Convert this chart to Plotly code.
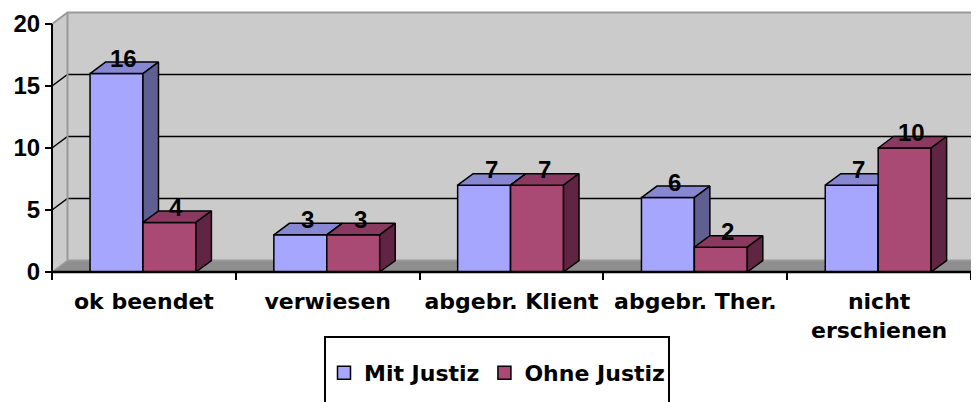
import plotly.graph_objects as go

# ---------------- data ----------------
categories = ["ok beendet", "verwiesen", "abgebr. Klient", "abgebr. Ther.", "nicht<br>erschienen"]
mit_justiz = [16, 3, 7, 6, 7]
ohne_justiz = [4, 3, 7, 2, 10]
series_names = ["Mit Justiz", "Ohne Justiz"]
y_tick_values = [0, 5, 10, 15, 20]

# ---------------- geometry / style ----------------
# the page body adds an 8px offset; figure pixel targets are shifted accordingly
W, H = 979, 402
ML, MR, MT, MB = 32, 0, 0, 130
plot_w = W - ML - MR
plot_h = H - MT - MB
PX_X = 183.8   # pixels per category
PX_Y = 12.4    # pixels per unit
x_lo = -12 / PX_X
x_hi = x_lo + plot_w / PX_X
y_lo = -8 / PX_Y
y_hi = y_lo + plot_h / PX_Y

DX = 15.5 / PX_X   # 3D depth offset (x, data units)
DY = 11.5 / PX_Y   # 3D depth offset (y, data units)
N = len(categories)
YMAX = y_tick_values[-1]
BAR_OFF = 0.207
BAR_W = 0.288

colors = {
    "Mit Justiz": {"front": "#A6A6FF", "top": "#8787D2", "side": "#5F5F92"},
    "Ohne Justiz": {"front": "#A94A74", "top": "#8A3A60", "side": "#602542"},
}
WALL = "#CBCBCB"
FLOOR = "#8E8E8E"
EDGE = "#9A9A9A"
DIGIT_FONT = dict(family="Liberation Sans, Arial, sans-serif", size=24, color="black", weight="bold")
TEXT_FONT = dict(family="DejaVu Sans, Verdana, sans-serif", size=22, color="black", weight="bold")

fig = go.Figure()


def faces(values, s_idx):
    fx, fy, tx, ty, sx, sy = [], [], [], [], [], []
    for i, v in enumerate(values):
        x0 = i + BAR_OFF + s_idx * BAR_W
        x1 = x0 + BAR_W
        fx += [x0, x1, x1, x0, x0, None]
        fy += [0, 0, v, v, 0, None]
        tx += [x0, x1, x1 + DX, x0 + DX, x0, None]
        ty += [v, v, v + DY, v + DY, v, None]
        sx += [x1, x1 + DX, x1 + DX, x1, x1, None]
        sy += [0, DY, v + DY, v, 0, None]
    return (fx, fy), (tx, ty), (sx, sy)


for s_idx, (name, vals) in enumerate(zip(series_names, [mit_justiz, ohne_justiz])):
    front, top, side = faces(vals, s_idx)
    for (xs, ys), part in zip([front, top, side], ["front", "top", "side"]):
        fig.add_trace(go.Scatter(
            x=xs, y=ys, mode="lines", fill="toself",
            fillcolor=colors[name][part],
            line=dict(color="black", width=1.5),
            hoverinfo="skip", showlegend=False,
        ))
    for i, v in enumerate(vals):
        x0 = i + BAR_OFF + s_idx * BAR_W
        fig.add_annotation(
            x=x0 + BAR_W / 2 + DX * 0.45, y=v + DY * 0.5,
            text=str(v), showarrow=False, font=DIGIT_FONT,
            xanchor="center", yanchor="bottom", yshift=-6,
        )

# legend-only entries
for name in series_names:
    fig.add_trace(go.Scatter(
        x=[None], y=[None], mode="markers", name=name,
        marker=dict(symbol="square", size=13, color=colors[name]["front"],
                    line=dict(color="black", width=1.5)),
        showlegend=True,
    ))

shapes = []
# back wall, left wall, floor
shapes.append(dict(type="rect", xref="x", yref="y", x0=DX, x1=N + 1, y0=DY, y1=YMAX + DY,
                   fillcolor=WALL, line=dict(width=0), layer="below"))
shapes.append(dict(type="path", xref="x", yref="y",
                   path=f"M 0 0 L 0 {YMAX} L {DX} {YMAX + DY} L {DX} {DY} Z",
                   fillcolor=WALL, line=dict(width=0), layer="below"))
shapes.append(dict(type="path", xref="x", yref="y",
                   path=f"M 0 0 L {DX} {DY} L {N + 1} {DY} L {N + 1} 0 Z",
                   fillcolor=FLOOR, line=dict(width=0), layer="below"))
shapes.append(dict(type="path", xref="x", yref="y",
                   path=f"M {N} 0 L {N + DX} {DY}",
                   line=dict(color="black", width=1.5), layer="below"))
# gridlines on back + side wall
for v in y_tick_values[1:-1]:
    shapes.append(dict(type="path", xref="x", yref="y",
                       path=f"M 0 {v} L {DX} {v + DY} L {N + 1} {v + DY}",
                       line=dict(color="black", width=1.5), layer="below"))
# wall edges
shapes.append(dict(type="path", xref="x", yref="y",
                   path=f"M 0 {YMAX} L {DX} {YMAX + DY} L {N + 1} {YMAX + DY}",
                   line=dict(color=EDGE, width=2), layer="below"))
shapes.append(dict(type="path", xref="x", yref="y",
                   path=f"M {DX} {YMAX + DY} L {DX} {DY} L {N + 1} {DY}",
                   line=dict(color=EDGE, width=2), layer="below"))
shapes.append(dict(type="path", xref="x", yref="y",
                   path=f"M 0 0 L {DX} {DY}",
                   line=dict(color=EDGE, width=1.5), layer="below"))
# axis lines
shapes.append(dict(type="line", xref="x", yref="y", x0=0, x1=0, y0=0, y1=YMAX,
                   line=dict(color="black", width=2), layer="above"))
shapes.append(dict(type="line", xref="x", yref="y", x0=0, x1=N, y0=0, y1=0,
                   line=dict(color="black", width=2.5), layer="above"))
# legend frame (figure pixel targets)
LEG_L, LEG_R, LEG_T, LEG_B = 317, 661, 329, 410
shapes.append(dict(type="rect", xref="paper", yref="paper",
                   x0=(LEG_L - ML) / plot_w, x1=(LEG_R - ML) / plot_w,
                   y0=(MT + plot_h - LEG_T) / plot_h, y1=(MT + plot_h - LEG_B) / plot_h,
                   line=dict(color="black", width=2), fillcolor="rgba(0,0,0,0)"))

label_pos = [i + 0.5 for i in range(N)]

fig.update_layout(
    width=W, height=H,
    margin=dict(l=ML, r=MR, t=MT, b=MB, autoexpand=False),
    paper_bgcolor="white", plot_bgcolor="rgba(0,0,0,0)",
    shapes=shapes,
    xaxis=dict(range=[x_lo, x_hi], showgrid=False, zeroline=False, showline=False,
               automargin=False,
               tickmode="array", tickvals=label_pos, ticktext=categories,
               ticks="", tickfont=TEXT_FONT, ticklabelstandoff=14,
               anchor="free", position=(-y_lo) / (y_hi - y_lo),
               minor=dict(tickmode="array", tickvals=list(range(N + 1)), ticks="outside",
                          ticklen=7, tickwidth=2, tickcolor="black", showgrid=False)),
    yaxis=dict(range=[y_lo, y_hi], showgrid=False, zeroline=False, showline=False,
               automargin=False,
               tickmode="array", tickvals=y_tick_values, ticks="outside",
               ticklen=7, tickwidth=2, tickcolor="black", tickfont=DIGIT_FONT,
               anchor="free", position=(-x_lo) / (x_hi - x_lo)),
    legend=dict(orientation="h", xref="container", yref="container",
                x=489 / W, xanchor="center", y=1 - 365 / H, yanchor="middle",
                font=TEXT_FONT, bgcolor="rgba(0,0,0,0)", itemwidth=30),
    showlegend=True,
)

fig.write_html("out.html")
